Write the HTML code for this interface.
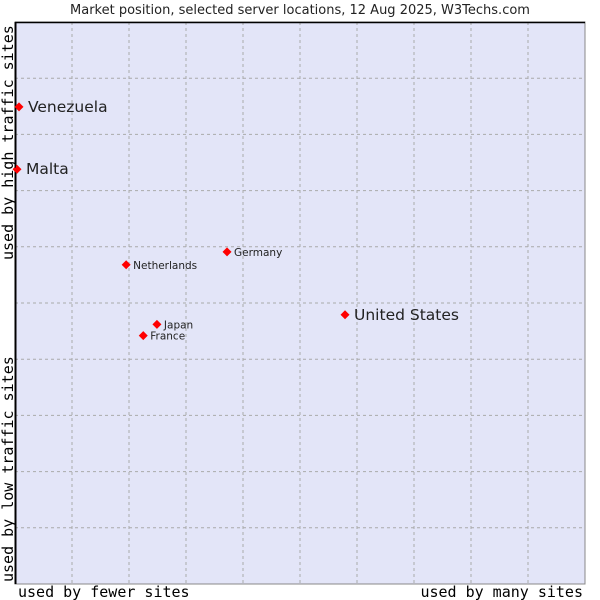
<!DOCTYPE html>
<html><head><meta charset="utf-8"><style>
body{margin:0;background:#fff}
svg{display:block}
text{font-family:"DejaVu Sans","Liberation Sans",sans-serif;fill:#222}
.mono{font-family:"DejaVu Sans Mono","Liberation Mono",monospace;fill:#000}
</style></head><body>
<svg id="chart" width="600" height="600" viewBox="0 0 600 600">
<text x="300" y="14" font-size="13" text-anchor="middle">Market position, selected server locations, 12 Aug 2025, W3Techs.com</text>
<rect x="15" y="22" width="570" height="562" fill="#e3e5f8" stroke="#888" stroke-width="1"/>
<g id="grid"></g>
<line x1="15.5" y1="22" x2="15.5" y2="584" stroke="#000" stroke-width="2"/>
<line x1="15" y1="22.5" x2="585" y2="22.5" stroke="#000" stroke-width="1.5"/>
<g id="points"></g>
<text class="mono" x="18" y="597" font-size="15">used by fewer sites</text>
<text class="mono" x="583" y="597" font-size="15" text-anchor="end">used by many sites</text>
<text class="mono" transform="translate(13,260) rotate(-90)" font-size="15">used by high traffic sites</text>
<text class="mono" transform="translate(13,582) rotate(-90)" font-size="15">used by low traffic sites</text>
</svg>
<script>
const names = ["Venezuela","Malta","Germany","Netherlands","United States","Japan","France"];
const xValues = [0.7,0.35,37.2,19.5,57.9,24.9,22.5];
const yValues = [84.9,73.8,59.1,56.8,47.9,46.2,44.2];
const bigLabel = [true,true,false,false,true,false,false];
const gridTicks = [10,20,30,40,50,60,70,80,90];
const NS="http://www.w3.org/2000/svg";
const L=15,R=585,T=22,B=584;
const sx=v=>L+(R-L)*v/100, sy=v=>B-(B-T)*v/100;
const grid=document.getElementById('grid');
gridTicks.forEach(t=>{
  const v=document.createElementNS(NS,'line');
  
  
  v.setAttribute('x1',sx(t));v.setAttribute('x2',sx(t));v.setAttribute('y1',T);v.setAttribute('y2',B);
  v.setAttribute('stroke','#aaa');v.setAttribute('stroke-dasharray','3,3');
  grid.appendChild(v);
  const h=document.createElementNS(NS,'line');
  
  
  h.setAttribute('y1',sy(t));h.setAttribute('y2',sy(t));h.setAttribute('x1',L);h.setAttribute('x2',R);
  h.setAttribute('stroke','#aaa');h.setAttribute('stroke-dasharray','3,3');
  grid.appendChild(h);
});
const pts=document.getElementById('points');
names.forEach((n,i)=>{
  const x=sx(xValues[i]),y=sy(yValues[i]);
  const d=document.createElementNS(NS,'polygon');
  
  
  d.setAttribute('points',`${x},${y-4.5} ${x+4.5},${y} ${x},${y+4.5} ${x-4.5},${y}`);
  d.setAttribute('fill','#f00');
  pts.appendChild(d);
  const t=document.createElementNS(NS,'text');
  
  
  t.setAttribute('x',x+(bigLabel[i]?9:7));
  t.setAttribute('y',y+(bigLabel[i]?5:4));
  t.setAttribute('font-size',bigLabel[i]?'15.5':'10.5');
  t.textContent=n;
  pts.appendChild(t);
});
</script>
</body></html>
